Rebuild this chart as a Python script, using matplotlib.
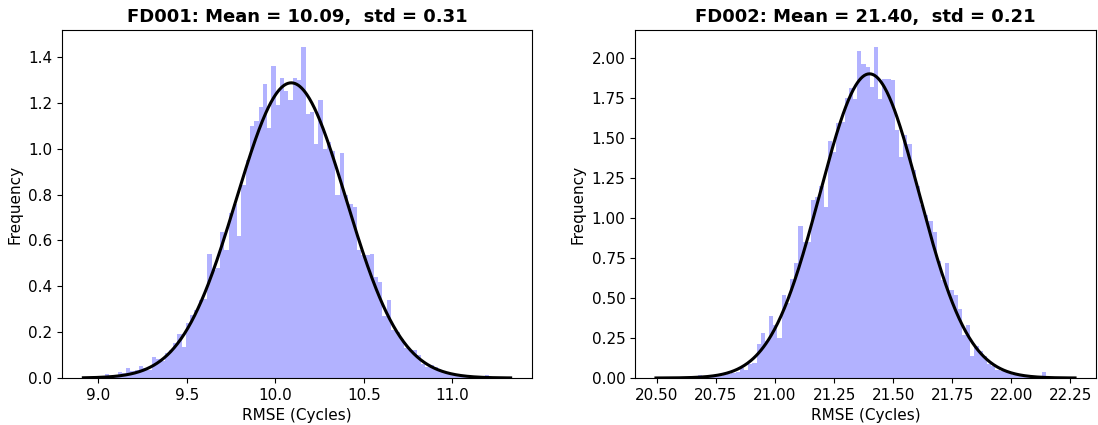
import numpy as np
import matplotlib.pyplot as plt

plt.rc('font', size=11)
plt.rc('axes', titlesize=13, titleweight='bold')

#### FD001 histogram: 100 bins between the min and max RMSE, density heights
fd001_mean = 10.09
fd001_std = 0.31
fd001_range = (8.915, 11.33)
fd001_density = [
    0.004, 0.0, 0.004, 0.008, 0.008, 0.017, 0.008, 0.012, 0.027, 0.020,
    0.045, 0.030, 0.035, 0.053, 0.045, 0.035, 0.090, 0.085, 0.075, 0.107,
    0.122, 0.154, 0.194, 0.136, 0.238, 0.274, 0.296, 0.340, 0.346, 0.540,
    0.470, 0.480, 0.636, 0.556, 0.720, 0.760, 0.620, 0.840, 0.950, 1.100,
    1.120, 1.180, 1.280, 1.090, 1.360, 1.190, 1.310, 1.250, 1.210, 1.310,
    1.300, 1.445, 1.150, 1.160, 1.020, 1.210, 1.000, 1.030, 0.990, 0.800,
    0.980, 0.800, 0.760, 0.745, 0.557, 0.535, 0.535, 0.540, 0.440, 0.420,
    0.270, 0.340, 0.210, 0.200, 0.170, 0.130, 0.120, 0.120, 0.100, 0.060,
    0.050, 0.055, 0.050, 0.030, 0.028, 0.020, 0.020, 0.012, 0.010, 0.008,
    0.006, 0.004, 0.004, 0.002, 0.012, 0.0, 0.002, 0.0, 0.0, 0.004,
]

#### FD002 histogram
fd002_mean = 21.40
fd002_std = 0.21
fd002_range = (20.496, 22.27)
fd002_density = [
    0.005, 0.0, 0.0, 0.005, 0.0, 0.005, 0.005, 0.0, 0.005, 0.005,
    0.020, 0.010, 0.010, 0.010, 0.015, 0.015, 0.020, 0.025, 0.030, 0.035,
    0.060, 0.050, 0.090, 0.095, 0.210, 0.280, 0.230, 0.390, 0.330, 0.250,
    0.520, 0.470, 0.620, 0.720, 0.950, 0.850, 0.850, 1.110, 1.130, 1.200,
    1.070, 1.480, 1.410, 1.590, 1.600, 1.750, 1.810, 1.740, 2.040, 1.960,
    1.940, 1.820, 2.070, 1.740, 1.870, 1.870, 1.860, 1.550, 1.380, 1.520,
    1.460, 1.300, 1.200, 1.080, 1.020, 0.980, 0.910, 0.730, 0.610, 0.720,
    0.550, 0.520, 0.430, 0.270, 0.330, 0.140, 0.200, 0.170, 0.140, 0.090,
    0.075, 0.050, 0.045, 0.035, 0.030, 0.020, 0.020, 0.010, 0.010, 0.005,
    0.005, 0.0, 0.035, 0.0, 0.0, 0.0, 0.0, 0.0, 0.0, 0.005,
]


def plot_rmse_hist(ax, name, density, lims, mean, std):

    edges = np.linspace(lims[0], lims[1], len(density) + 1)
    centers = 0.5 * (edges[:-1] + edges[1:])

    ax.hist(centers, bins=edges, weights=density, color='blue', alpha=0.3)

    # normal fit with the reported mean / std
    x = np.linspace(lims[0], lims[1], 500)
    y = np.exp(-0.5 * ((x - mean) / std) ** 2) / (std * np.sqrt(2 * np.pi))
    ax.plot(x, y, color='black', lw=2.2)

    ax.set_title(f'{name}: Mean = {mean:.2f},  std = {std:.2f}')
    ax.set_xlabel('RMSE (Cycles)')
    ax.set_ylabel('Frequency')


fig = plt.figure(figsize=(10.98, 4.25), dpi=100)
ax1 = fig.add_axes([62 / 1098, 47 / 425, 470 / 1098, 348 / 425])
ax2 = fig.add_axes([635 / 1098, 47 / 425, 461 / 1098, 348 / 425])

plot_rmse_hist(ax1, 'FD001', fd001_density, fd001_range, fd001_mean, fd001_std)
plot_rmse_hist(ax2, 'FD002', fd002_density, fd002_range, fd002_mean, fd002_std)

plt.savefig('out.png', dpi=100)
plt.close('all')
